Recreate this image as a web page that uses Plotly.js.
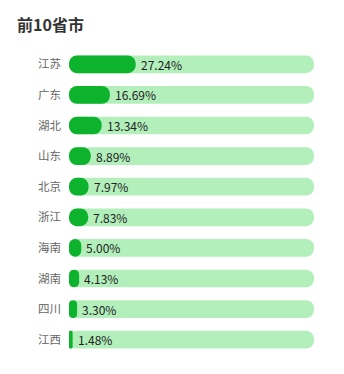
<!DOCTYPE html>
<html>
<head>
<meta charset="utf-8">
<script src="https://cdn.plot.ly/plotly-3.0.1.min.js"></script>
<style>html,body{margin:0;padding:0;background:#fff;}#chart{width:344px;height:374px;}</style>
</head>
<body>
<div id="chart"></div>
<script>
const provinces = ["江苏","广东","湖北","山东","北京","浙江","海南","湖南","四川","江西"];
const shares = [27.24, 16.69, 13.34, 8.89, 7.97, 7.83, 5.00, 4.13, 3.30, 1.48];
const fullScale = 100;

const bg = {
  type: 'bar', orientation: 'h',
  y: provinces, x: provinces.map(() => fullScale),
  base: 0,
  width: 0.58,
  marker: {color: '#b2efbb', cornerradius: 9},
  hoverinfo: 'skip', showlegend: false
};
const fg = {
  type: 'bar', orientation: 'h',
  y: provinces, x: shares,
  base: 0,
  width: 0.58,
  marker: {color: '#0db32c', cornerradius: 9},
  showlegend: false
};

const annotations = provinces.map((p, i) => ({
  x: shares[i], y: p, xref: 'x', yref: 'y',
  text: shares[i].toFixed(2) + '%',
  showarrow: false, xanchor: 'left', yanchor: 'middle',
  xshift: 3,
  font: {size: 12, color: '#222', family: 'Noto Sans CJK SC, sans-serif'}
}));

const layout = {
  width: 344, height: 374,
  margin: {l: 69, r: 30, t: 49, b: 19},
  paper_bgcolor: '#fff', plot_bgcolor: '#fff',
  barmode: 'overlay',
  title: {
    text: '<b>前10省市</b>', x: 17/344, xref: 'container', xanchor: 'left',
    y: 1 - 25/374, yref: 'container', yanchor: 'middle',
    font: {size: 16, color: '#333', family: 'Noto Sans CJK SC, sans-serif'}
  },
  xaxis: {range: [0, fullScale], visible: false, fixedrange: true},
  yaxis: {
    autorange: 'reversed', type: 'category',
    showgrid: false, zeroline: false, showline: false,
    ticks: '', ticklabelstandoff: 7,
    tickfont: {size: 11.5, color: '#666', family: 'Noto Sans CJK SC, sans-serif'}
  },
  annotations: annotations
};

Plotly.newPlot('chart', [bg, fg], layout, {displayModeBar: false, staticPlot: true});
</script>
</body>
</html>
